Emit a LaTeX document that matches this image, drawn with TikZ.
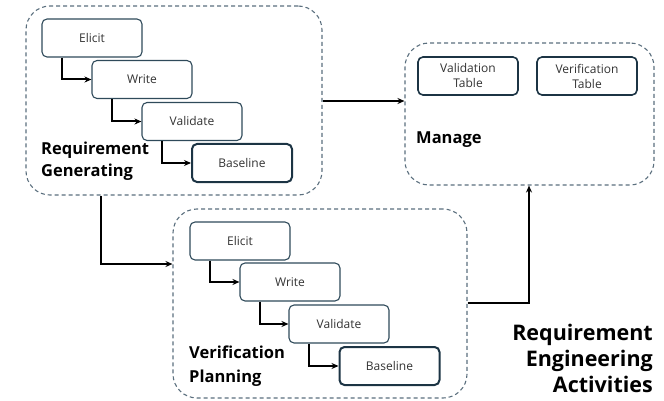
\documentclass[tikz,border=0pt]{standalone}
\usepackage{fontspec}
\setmainfont{Open Sans}
\usetikzlibrary{arrows.meta,calc}
\definecolor{boxc}{HTML}{2F4A5A}
\definecolor{boxdark}{HTML}{1C3444}
\definecolor{dashc}{HTML}{5B6F7E}
\definecolor{txtc}{HTML}{333333}
\tikzset{
  stepbox/.style={draw=boxc, line width=1.1pt, rounded corners=5pt, minimum width=100pt, minimum height=38pt, inner sep=0pt, font=\fontsize{12}{14}\selectfont, text=txtc, fill=white},
  basebox/.style={stepbox, draw=boxdark, line width=2pt},
  tablebox/.style={stepbox, draw=boxdark, line width=1.6pt, align=center, font=\fontsize{12}{15}\selectfont},
  group/.style={draw=dashc, dash pattern=on 4pt off 3pt, line width=1.1pt, rounded corners=24pt, inner sep=0pt},
  flow/.style={line width=2pt, -{Stealth[length=7pt,width=6pt]}},
  grouplabel/.style={font=\bfseries\fontsize{16.5}{22.5}\selectfont, align=left, inner sep=0pt, text=black},
}
\begin{document}
\begin{tikzpicture}[x=1pt,y=-1pt]
\useasboundingbox (0,0) rectangle (664,401);
% groups
\node[group, minimum width=296pt, minimum height=189pt] (rg) at (174,100.5) {};
\node[group, minimum width=249pt, minimum height=142pt] (mg) at (529.5,114) {};
\node[group, minimum width=294pt, minimum height=189pt] (vp) at (320,303.5) {};
% Requirement Generating steps
\node[stepbox] (e1) at (92,38) {Elicit};
\node[stepbox] (w1) at (142,79.5) {Write};
\node[stepbox] (v1) at (192,121.5) {Validate};
\node[basebox] (b1) at (242,163) {Baseline};
\draw[flow] ([xshift=21pt]e1.south west) |- (w1.west);
\draw[flow] ([xshift=21pt]w1.south west) |- (v1.west);
\draw[flow] ([xshift=21pt]v1.south west) |- (b1.west);
\node[grouplabel, anchor=west] (rgl) at (41,161) {Requirement\\Generating};
% Manage
\node[tablebox] (vt) at (468,76) {Validation\\Table};
\node[tablebox] (ft) at (587,76) {Verification\\Table};
\node[grouplabel, anchor=base west] (mgl) at (416,143) {Manage};
% Verification Planning steps
\node[stepbox] (e2) at (240,241) {Elicit};
\node[stepbox] (w2) at (290,282) {Write};
\node[stepbox] (v2) at (339,324) {Validate};
\node[basebox] (b2) at (389.5,366) {Baseline};
\draw[flow] ([xshift=21pt]e2.south west) |- (w2.west);
\draw[flow] ([xshift=21pt]w2.south west) |- (v2.west);
\draw[flow] ([xshift=21pt]v2.south west) |- (b2.west);
\node[grouplabel, anchor=west, font=\bfseries\fontsize{16.5}{24}\selectfont] (vpl) at (189,366) {Verification\\Planning};
% connectors between groups
\draw[flow] (rg.east |- 0,101) -- (mg.west |- 0,101);
\draw[flow] (rg.south -| 101,0) |- (vp.west |- 0,264);
\draw[flow] (vp.east |- 0,303) -| (mg.south -| 529,0);
% title
\node[anchor=east, align=right, inner sep=0pt, font=\bfseries\fontsize{21.5}{26}\selectfont] (title) at (653,358) {Requirement\\Engineering\\Activities};
\end{tikzpicture}
\end{document}
